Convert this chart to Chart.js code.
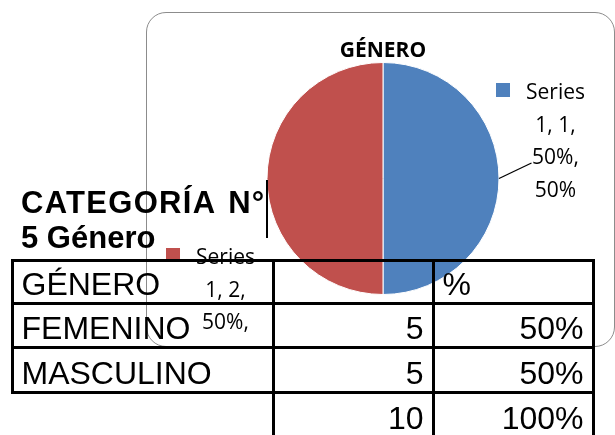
<!DOCTYPE html>
<html lang="es">
<head>
  <meta charset="UTF-8">
  <title>Categoría N° 5 Género</title>
  <script src="https://cdn.jsdelivr.net/npm/chart.js"></script>
  <style>
    body {
      margin: 0;
      width: 615px;
      height: 435px;
      overflow: hidden;
      background: #fff;
      position: relative;
      font-family: "Liberation Sans", Arial, sans-serif;
    }
    #caja {
      position: absolute;
      left: 146px;
      top: 12px;
      width: 469px;
      height: 335px;
      box-sizing: border-box;
      border: 1.5px solid #8c8c8c;
      border-radius: 20px;
      overflow: hidden;
      background: #fff;
    }
    #grafico { display: block; }
    #titulo {
      position: absolute;
      left: 21px;
      top: 185px;
      font-weight: bold;
      font-size: 31px;
      line-height: 35px;
      white-space: nowrap;
    }
    #titulo .l1 { word-spacing: 3px; letter-spacing: 1.3px; }
    #cursor {
      position: absolute;
      left: 266px;
      top: 180px;
      width: 2px;
      height: 58px;
      background: #000;
    }
    #tabla {
      position: absolute;
      left: 10.5px;
      top: 258.5px;
      border-collapse: collapse;
      table-layout: fixed;
      font-size: 32px;
      line-height: 32px;
    }
    #tabla td {
      border: 3px solid #000;
      padding: 0 8px 2px 8px;
      vertical-align: bottom;
      white-space: nowrap;
      overflow: hidden;
    }
    #tabla td.num { text-align: right; }
    #tabla td.vacia { border-left: hidden; border-bottom: hidden; }
  </style>
</head>
<body>

  <!-- Gráfico de pastel -->
  <div id="caja"><canvas id="grafico" width="466" height="332"></canvas></div>

  <div id="titulo"><span class="l1">CATEGORÍA N°</span><br>5 Género</div>
  <div id="cursor"></div>

  <!-- Tabla -->
  <table id="tabla">
    <colgroup>
      <col style="width:261px"><col style="width:160px"><col style="width:160px">
    </colgroup>
    <tbody id="cuerpo"></tbody>
  </table>

  <script>
    // Datos del gráfico
    const serie = 'Series 1';
    const categorias = ['1', '2'];
    const valores = [50, 50]; // en %
    const colores = ['#4F81BD', '#C0504D'];

    // Datos de la tabla
    const generos = ['FEMENINO', 'MASCULINO'];
    const cantidades = [5, 5];
    const porcentajes = [50, 50];

    // posición de las etiquetas respecto al centro del pastel (px)
    const posEtiquetas = [
      { dx: 172.5, dy: -79.5, guia: true },
      { dx: -157.5, dy: 85.5, guia: false }
    ];

    // Tabla
    const cuerpo = document.getElementById('cuerpo');
    let filas = '<tr style="height:43px"><td>GÉNERO</td><td></td><td>%</td></tr>';
    generos.forEach((g, i) => {
      filas += '<tr style="height:44.5px"><td>' + g + '</td><td class="num">' + cantidades[i] +
        '</td><td class="num">' + porcentajes[i] + '%</td></tr>';
    });
    const total = cantidades.reduce((a, b) => a + b, 0);
    const totalPct = porcentajes.reduce((a, b) => a + b, 0);
    filas += '<tr style="height:45px"><td class="vacia"></td><td class="num">' + total +
      '</td><td class="num">' + totalPct + '%</td></tr>';
    cuerpo.innerHTML = filas;

    function partirTexto(ctx, texto, ancho) {
      const palabras = texto.split(' ');
      const lineas = [];
      let actual = palabras[0];
      for (let i = 1; i < palabras.length; i++) {
        const prueba = actual + ' ' + palabras[i];
        if (ctx.measureText(prueba).width > ancho) {
          lineas.push(actual);
          actual = palabras[i];
        } else {
          actual = prueba;
        }
      }
      lineas.push(actual);
      return lineas;
    }

    // Etiquetas de datos estilo Excel
    const etiquetas = {
      id: 'etiquetas',
      afterDatasetsDraw(chart) {
        const ctx = chart.ctx;
        const meta = chart.getDatasetMeta(0);
        const suma = valores.reduce((a, b) => a + b, 0);
        ctx.save();
        ctx.font = '21px "Open Sans"';
        ctx.textAlign = 'center';
        ctx.textBaseline = 'alphabetic';
        meta.data.forEach((arc, i) => {
          const p = arc.getProps(['x', 'y', 'outerRadius', 'startAngle', 'endAngle'], true);
          const pos = posEtiquetas[i];
          const tx = p.x + pos.dx;
          const ty = p.y + pos.dy;
          const texto = [serie, categorias[i], valores[i] + '%', Math.round(valores[i] / suma * 100) + '%'].join(', ');
          const lineas = partirTexto(ctx, texto, 70);

          const w0 = ctx.measureText(lineas[0]).width;
          ctx.fillStyle = colores[i];
          ctx.fillRect(tx - w0 / 2 - 30, ty - 16, 14, 14);

          ctx.fillStyle = '#000';
          lineas.forEach((l, k) => ctx.fillText(l, tx, ty + k * 32.5));

          if (pos.guia) {
            const medio = (p.startAngle + p.endAngle) / 2;
            ctx.strokeStyle = '#000';
            ctx.lineWidth = 1.3;
            ctx.beginPath();
            ctx.moveTo(p.x + p.outerRadius * Math.cos(medio), p.y + p.outerRadius * Math.sin(medio));
            ctx.lineTo(tx - 24, ty + 64);
            ctx.stroke();
          }
        });
        ctx.restore();
      }
    };

    new Chart(document.getElementById('grafico'), {
      type: 'pie',
      data: {
        labels: categorias,
        datasets: [{
          label: serie,
          data: valores,
          backgroundColor: colores,
          borderColor: '#fff',
          borderWidth: 1
        }]
      },
      options: {
        responsive: false,
        animation: false,
        layout: { padding: { top: 0, bottom: 50, left: 119.5, right: 113.5 } },
        plugins: {
          legend: { display: false },
          tooltip: { enabled: false },
          title: {
            display: true,
            text: 'GÉNERO',
            color: '#000',
            font: { family: '"Open Sans"', size: 21, weight: 'bold', lineHeight: 1 },
            padding: { top: 28, bottom: 0 }
          }
        }
      },
      plugins: [etiquetas]
    });
  </script>
</body>
</html>
